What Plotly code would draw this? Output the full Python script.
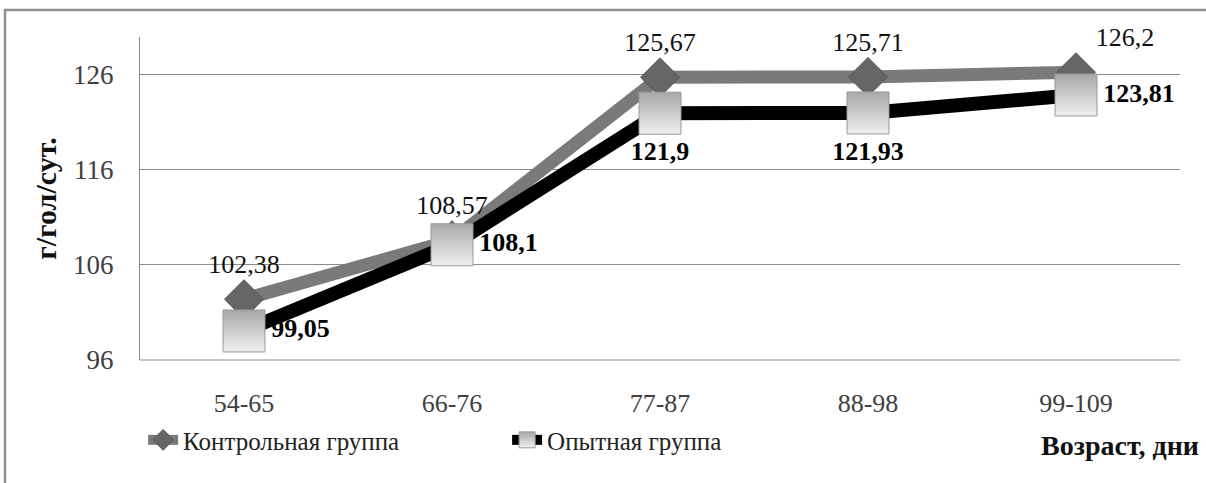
import plotly.graph_objects as go

categories = ["54-65", "66-76", "77-87", "88-98", "99-109"]
control = [102.38, 108.57, 125.67, 125.71, 126.2]
experimental = [99.05, 108.1, 121.9, 121.93, 123.81]
y_ticks = [96, 106, 116, 126]
series_names = ["Контрольная группа", "Опытная группа"]
x_title = "Возраст, дни"
y_title = "г/гол/сут."

def fmt(v):
    return str(v).replace(".", ",")

FONT = "Liberation Serif"

fig = go.Figure()
fig.add_trace(go.Scatter(
    x=categories, y=control, name=series_names[0], mode="lines+markers+text",
    cliponaxis=False,
    line=dict(color="#7a7a7a", width=13),
    marker=dict(symbol="diamond", size=30, color="#666666",
                line=dict(color="#555555", width=1)),
    text=[fmt(v) for v in control],
    textposition=["top center", "top center", "top center", "top center", "top right"],
    textfont=dict(family=FONT, size=26, color="#111111"),
))
fig.add_trace(go.Scatter(
    x=categories, y=experimental, name=series_names[1], mode="lines+markers+text",
    cliponaxis=False,
    line=dict(color="#000000", width=14),
    marker=dict(symbol="square", size=42, color="#a8a8a8",
                gradient=dict(type="vertical", color="#f0f0f0"),
                line=dict(color="#9a9a9a", width=1)),
    text=["<b>" + fmt(v) + "</b>" for v in experimental],
    textposition=["middle right", "middle right", "bottom center", "bottom center", "middle right"],
    textfont=dict(family=FONT, size=26, color="#000000"),
))

fig.update_layout(
    width=1206, height=483,
    margin=dict(l=140, r=26, t=37, b=123),
    paper_bgcolor="white", plot_bgcolor="white",
    font=dict(family=FONT, size=24, color="#333333"),
    showlegend=True,
    legend=dict(orientation="h", x=0.003, y=-0.248, yanchor="middle", xanchor="left",
                font=dict(family=FONT, size=25, color="#222222"),
                entrywidth=319, entrywidthmode="pixels", bgcolor="rgba(0,0,0,0)"),
    xaxis=dict(range=[-0.5, 4.5], showgrid=False, showline=False, zeroline=False,
               ticks="outside", ticklen=20, tickcolor="rgba(0,0,0,0)",
               tickfont=dict(family=FONT, size=26, color="#404040")),
    yaxis=dict(range=[96, 129.9], tickvals=y_ticks, showgrid=True, gridcolor="#8c8c8c",
               gridwidth=1, zeroline=False, showline=True, linecolor="#8c8c8c",
               ticks="outside", ticklen=20, tickcolor="rgba(0,0,0,0)",
               tickfont=dict(family=FONT, size=27, color="#404040")),
    annotations=[
        dict(text="<b>" + x_title + "</b>", xref="paper", yref="paper",
             x=1.02, y=-0.265, xanchor="right", yanchor="middle", showarrow=False,
             font=dict(family=FONT, size=28, color="#111111")),
        dict(text="<b>" + y_title + "</b>", xref="paper", yref="paper",
             x=-0.091, y=0.5, xanchor="center", yanchor="middle", textangle=-90,
             showarrow=False, font=dict(family=FONT, size=30, color="#111111")),
    ],
    shapes=[
        dict(type="rect", xref="paper", yref="paper", x0=-0.1298, x1=1.05,
             y0=-0.5, y1=1.0836, line=dict(color="#8f8f8f", width=2.5), layer="below"),
        dict(type="line", xref="paper", yref="paper", x0=0, x1=1, y0=0, y1=0,
             line=dict(color="#8c8c8c", width=1)),
    ],
)

fig.write_html("out.html")
